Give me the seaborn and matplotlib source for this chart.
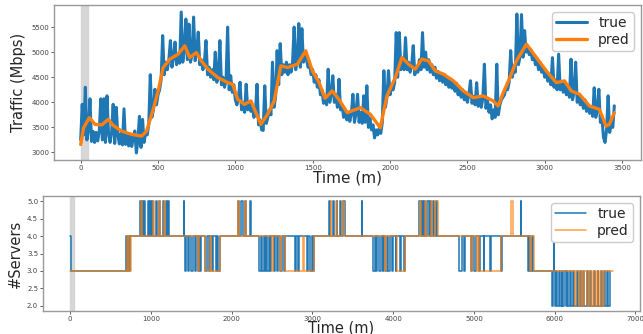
import numpy as np
import pandas as pd
import matplotlib
matplotlib.use('Agg')
import matplotlib.pyplot as plt
import seaborn as sns

# traffic, sampled every 10 minutes (true), one row = 100 minutes
traffic_true = [
    3250, 3960, 3350, 4300, 3250, 3450, 4070, 3220, 3420, 3200,
    3400, 3230, 3420, 4070, 3250, 4070, 3200, 4130, 3380, 3200,
    3400, 3960, 3180, 3900, 3350, 3170, 3380, 3150, 3870, 3160,
    3350, 3130, 3330, 3120, 3300, 3430, 2990, 3250, 3720, 3100,
    3660, 3200, 3400, 3350, 3550, 4550, 3700, 3850, 4260, 3950,
    4150, 4250, 4450, 5330, 4550, 4800, 4650, 4850, 5230, 4700,
    4900, 5200, 4750, 4950, 4780, 5800, 4800, 5050, 5660, 4850,
    5560, 4800, 4950, 5700, 4830, 5000, 5400, 4750, 4850, 4650,
    4800, 5230, 4550, 4700, 4500, 4650, 4450, 5000, 4400, 4550,
    5230, 4350, 4500, 4300, 4450, 5500, 4250, 4530, 4200, 4350,
    4050, 3950, 4100, 4400, 3850, 4000, 3800, 4360, 3850, 4000,
    3820, 3950, 3700, 3800, 4360, 3550, 3650, 3450, 3440, 4330,
    3580, 3700, 3850, 3750, 4800, 3900, 4100, 5030, 4350, 5170,
    4550, 4750, 4600, 4800, 4550, 4750, 4600, 4800, 5500, 4650,
    4850, 5570, 4700, 5470, 4800, 5000, 4850, 4700, 4750, 4550,
    4650, 4400, 4550, 4300, 4450, 4150, 4250, 3980, 4100, 3950,
    4660, 4000, 4150, 4530, 4000, 4150, 3900, 4460, 3850, 3950,
    3700, 3850, 3650, 3800, 3620, 3780, 4160, 3600, 3780, 4160,
    3600, 3800, 3580, 4130, 3600, 4330, 3500, 3680, 3450, 3550,
    3290, 3450, 3350, 3480, 3380, 3600, 4630, 3900, 4100, 4630,
    4150, 4300, 4250, 4400, 5390, 4500, 5390, 4650, 4850, 4650,
    5290, 4650, 4800, 4600, 4750, 5130, 4550, 4700, 4600, 4850,
    4650, 5390, 4700, 5000, 4650, 4850, 4600, 4750, 4550, 4700,
    4480, 4620, 4430, 4580, 4400, 4560, 4350, 4500, 4300, 4470,
    4280, 4420, 4220, 4380, 4150, 4300, 4100, 4250, 4050, 4200,
    4000, 4150, 4430, 3980, 4120, 3950, 4390, 3920, 4100, 3900,
    4080, 4760, 3880, 4050, 3800, 3950, 3670, 3850, 3700, 4760,
    3750, 3950, 4050, 4100, 4150, 4300, 4250, 4400, 5030, 4500,
    4650, 4600, 5760, 4750, 4900, 5750, 4900, 5430, 5000, 5100,
    4950, 5050, 4850, 4950, 4750, 4880, 4650, 4800, 4600, 4700,
    4500, 4620, 4420, 4550, 4350, 4890, 4300, 4450, 4250, 4960,
    4250, 4400, 4200, 4400, 4150, 4330, 4100, 4860, 4050, 4200,
    4800, 4000, 4150, 3950, 4100, 3880, 4050, 3820, 3950, 3780,
    3900, 3720, 4290, 3700, 3850, 4260, 3600, 3700, 3300, 3200,
    3450, 4130, 3400, 3600, 3500, 3930,
]
traffic_time = np.arange(len(traffic_true)) * 10

pred_time = [0, 19, 56, 93, 137, 178, 210, 264, 330, 394, 426, 469, 501, 533, 576,
             630, 673, 705, 748, 780, 823, 887, 951, 983, 1015, 1058, 1101, 1133,
             1165, 1208, 1251, 1294, 1337, 1401, 1455, 1498, 1541, 1580, 1626, 1669,
             1723, 1808, 1873, 1937, 1980, 2034, 2077, 2120, 2163, 2206, 2249, 2292,
             2345, 2410, 2474, 2538, 2603, 2667, 2699, 2732, 2775, 2817, 2882, 2946,
             3010, 3075, 3128, 3171, 3225, 3289, 3353, 3396, 3418, 3450]
traffic_pred = [3160, 3493, 3693, 3560, 3550, 3660, 3540, 3427, 3360, 3327, 3427, 3860,
                4227, 4693, 4860, 4960, 5127, 4893, 4993, 4827, 4660, 4493, 4393, 4360,
                4060, 3960, 4027, 3793, 3560, 3760, 4027, 4727, 4693, 4760, 5027, 4627,
                4393, 4080, 4227, 4060, 3793, 3893, 3760, 3493, 4127, 4493, 4893, 4760,
                4660, 4860, 4827, 4627, 4560, 4427, 4227, 4093, 4127, 4027, 3927, 4193,
                4493, 4827, 5160, 4893, 4627, 4393, 4427, 4227, 4160, 3927, 3860, 3527,
                3560, 3793]

# number of servers: change points (time, level)
servers_true_t = [
    0, 12, 690, 705, 715, 730, 745,
    870, 880, 895, 905, 915, 925, 960, 975, 985, 1000, 1010, 1020, 1060, 1075,
    1100, 1110, 1150, 1165, 1190, 1200, 1210, 1230, 1405, 1413,
    1420, 1440, 1460, 1475, 1500, 1520, 1540, 1560, 1580, 1600, 1610, 1625,
    1670, 1690, 1720, 1735, 1760, 1770, 1800, 1815, 1835, 1850,
    2075, 2085, 2120, 2135, 2160, 2175, 2225, 2235,
    2340, 2360, 2380, 2395, 2410, 2430, 2440, 2460, 2480, 2490, 2520, 2540,
    2560, 2575, 2600, 2620, 2650, 2665, 2790, 2800, 2820, 2830, 2930, 2945,
    2970, 2990, 3005, 3020,
    3210, 3220, 3250, 3262, 3300, 3310, 3340, 3352, 3380, 3400, 3612, 3620,
    3750, 3770, 3790, 3805, 3830, 3850, 3870, 3880, 3900, 3920, 3940, 3955,
    3980, 4000, 4030, 4040, 4080, 4100, 4130, 4150,
    4320, 4340, 4355, 4370, 4385, 4400, 4420, 4440, 4460, 4470, 4490, 4510,
    4530, 4545,
    4815, 4850, 4880, 4890, 4960, 4975, 5000, 5020, 5060, 5075, 5120, 5130,
    5200, 5210, 5330, 5350, 5578, 5586,
    5665, 5680, 5700, 5715, 5730,
    5963, 5975, 5985, 5992, 6000, 6020, 6030, 6050, 6060, 6085, 6095, 6120,
    6135, 6150, 6160, 6190, 6200, 6230, 6240, 6270, 6285, 6310, 6320, 6350,
    6360, 6400, 6410, 6440, 6455, 6490, 6500, 6530, 6540, 6570, 6585, 6610,
    6620, 6645, 6655, 6680, 6690,
]
servers_true_v = [
    4, 3, 4, 3, 4, 3, 4,
    5, 4, 5, 4, 5, 4, 5, 4, 5, 4, 5, 4, 5, 4,
    5, 4, 5, 4, 5, 4, 5, 4, 5, 4,
    3, 4, 3, 4, 3, 4, 3, 4, 3, 4, 3, 4,
    3, 4, 3, 4, 3, 4, 3, 4, 3, 4,
    5, 4, 5, 4, 5, 4, 5, 4,
    3, 4, 3, 4, 3, 4, 3, 4, 3, 4, 3, 4,
    3, 4, 3, 4, 3, 4, 3, 4, 3, 4, 3, 4,
    3, 4, 3, 4,
    5, 4, 5, 4, 5, 4, 5, 4, 5, 4, 5, 4,
    3, 4, 3, 4, 3, 4, 3, 4, 3, 4, 3, 4,
    3, 4, 3, 4, 3, 4, 3, 4,
    5, 4, 5, 4, 5, 4, 5, 4, 5, 4, 5, 4,
    5, 4,
    3, 4, 3, 4, 3, 4, 3, 4, 3, 4, 3, 4,
    3, 4, 3, 4, 5, 4,
    3, 4, 3, 4, 3,
    2, 3, 4, 3, 2, 3, 2, 3, 2, 3, 2, 3,
    2, 3, 2, 3, 2, 3, 2, 3, 2, 3, 2, 3,
    2, 3, 2, 3, 2, 3, 2, 3, 2, 3, 2, 3,
    2, 3, 2, 3, 3,
]
servers_pred_t = [
    0, 700, 712, 722, 735, 750,
    880, 890, 1025, 1035, 1095, 1110, 1165, 1180,
    1580, 1592, 1665, 1730, 1740, 1855,
    2080, 2090, 2160, 2172,
    2495, 2510, 2600, 2612, 2660, 2880, 2890, 3020,
    3225, 3235, 3290, 3300, 3370, 3385,
    3900, 3910, 4050, 4150,
    4330, 4345, 4400, 4410, 4470, 4480, 4520, 4550,
    4960, 4970, 5040, 5055, 5065, 5340,
    5460, 5480, 5690, 5705, 5740,
    6250, 6265, 6300, 6320, 6350, 6365, 6400, 6420, 6450, 6470, 6500, 6520,
    6540, 6555, 6590, 6605, 6720,
]
servers_pred_v = [
    3, 4, 3, 4, 3, 4,
    5, 4, 5, 4, 5, 4, 5, 4,
    3, 4, 3, 4, 3, 4,
    5, 4, 5, 4,
    3, 4, 3, 4, 3, 4, 3, 4,
    5, 4, 5, 4, 5, 4,
    3, 4, 3, 4,
    5, 4, 5, 4, 5, 4, 5, 4,
    3, 4, 3, 4, 3, 4,
    5, 4, 3, 4, 3,
    2, 3, 2, 3, 2, 3, 2, 3, 2, 3, 2, 3,
    2, 3, 2, 3, 3,
]

sns.set_style('white')
plt.rcParams['font.family'] = ['DejaVu Sans']

fig = plt.figure(figsize=(6.43, 3.34), dpi=100)
ax1 = fig.add_axes([54 / 643, 1 - 160 / 334, 587 / 643, 155 / 334])
ax2 = fig.add_axes([43 / 643, 1 - 311 / 334, 597 / 643, 115 / 334])

df_true = pd.DataFrame({'time': traffic_time, 'traffic': traffic_true})
df_pred = pd.DataFrame({'time': pred_time, 'traffic': traffic_pred})
sns.lineplot(data=df_true, x='time', y='traffic', ax=ax1, color='#1f77b4',
             linewidth=2.2, label='true')
sns.lineplot(data=df_pred, x='time', y='traffic', ax=ax1, color='#ff7f0e',
             linewidth=2.4, label='pred')
ax1.axvspan(0, 45, color='#d3d3d3', alpha=0.9, zorder=0)
ax1.set_xticks(range(0, 3501, 500))
ax1.set_yticks(range(3000, 5501, 500))
ax1.set_xlabel('Time (m)', fontsize=11, labelpad=0)
ax1.set_ylabel('Traffic (Mbps)', fontsize=10.5, labelpad=4)

df_st = pd.DataFrame({'time': servers_true_t, 'servers': servers_true_v})
df_sp = pd.DataFrame({'time': servers_pred_t, 'servers': servers_pred_v})
sns.lineplot(data=df_st, x='time', y='servers', ax=ax2, color='#1f77b4',
             linewidth=1.1, drawstyle='steps-post', label='true')
sns.lineplot(data=df_sp, x='time', y='servers', ax=ax2, color='#ff7f0e',
             linewidth=1.1, alpha=0.75, drawstyle='steps-post', label='pred')
ax2.axvspan(0, 50, color='#d3d3d3', alpha=0.9, zorder=0)
ax2.set_xticks(range(0, 7001, 1000))
ax2.set_yticks(np.arange(2.0, 5.01, 0.5))
ax2.set_xlabel('Time (m)', fontsize=10.5, labelpad=-1)
ax2.set_ylabel('#Servers', fontsize=10.5, labelpad=3)

for ax in (ax1, ax2):
    ax.tick_params(axis='both', labelsize=5, length=2, width=0.6, pad=1.5,
                   colors='#444444', bottom=True, left=True)
    for sp in ax.spines.values():
        sp.set_color('#999999')
        sp.set_linewidth(1.0)
    ax.legend(loc='upper right', fontsize=10, handlelength=2.2,
              borderpad=0.3, labelspacing=0.2, framealpha=1.0)

fig.savefig('out.png', dpi=100)
